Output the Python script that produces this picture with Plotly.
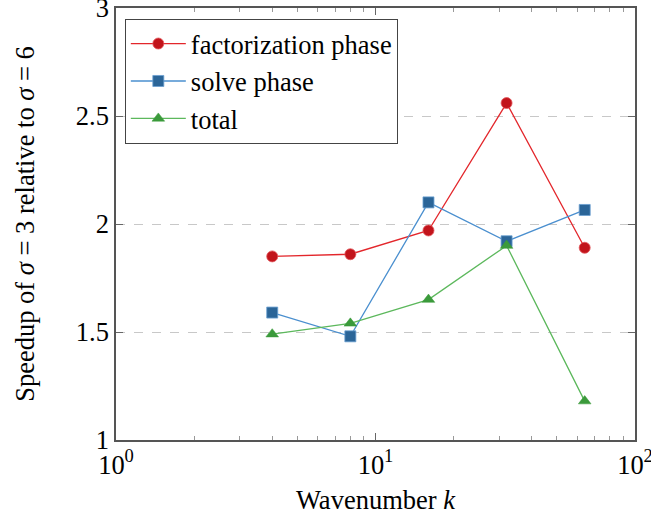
import plotly.graph_objects as go

k = [4, 8, 16, 32, 64]
factorization = [1.85, 1.86, 1.97, 2.56, 1.89]
solve = [1.59, 1.48, 2.10, 1.92, 2.065]
total = [1.49, 1.54, 1.65, 1.90, 1.18]

x_major = [1, 10, 100]
x_major_text = ["10<sup>0</sup>", "10<sup>1</sup>", "10<sup>2</sup>"]
x_minor = [2, 3, 4, 5, 6, 7, 8, 9, 20, 30, 40, 50, 60, 70, 80, 90]
y_ticks = [1, 1.5, 2, 2.5, 3]
y_text = ["1", "1.5", "2", "2.5", "3"]

FONT = "Liberation Serif, Times New Roman, serif"
FS = 26.5

fig = go.Figure()
fig.add_trace(go.Scatter(
    x=k, y=factorization, name="factorization phase", mode="lines+markers",
    line=dict(color="#e3262b", width=1.3),
    marker=dict(symbol="circle", size=11, color="#c2141b", line=dict(color="#e2555a", width=0.8))))
fig.add_trace(go.Scatter(
    x=k, y=solve, name="solve phase", mode="lines+markers",
    line=dict(color="#4a8fcf", width=1.3),
    marker=dict(symbol="square", size=11, color="#2b6598", line=dict(color="#6a9fd2", width=0.8))))
fig.add_trace(go.Scatter(
    x=k, y=total, name="total", mode="lines+markers",
    line=dict(color="#5cb85c", width=1.3),
    marker=dict(symbol="triangle-up", size=11, color="#3b9a3b", line=dict(color="#3b9a3b", width=0.5))))

fig.update_layout(
    width=651, height=515,
    margin=dict(l=116, r=16, t=8, b=75),
    paper_bgcolor="white", plot_bgcolor="white",
    font=dict(family=FONT, size=FS, color="black"),
    legend=dict(x=0.017, y=0.975, xanchor="left", yanchor="top",
                bordercolor="#444", borderwidth=1, bgcolor="white",
                font=dict(family=FONT, size=FS), tracegroupgap=0, itemwidth=55),
    showlegend=True,
)
fig.update_xaxes(
    type="log", range=[0, 2], automargin=False,
    tickmode="array", tickvals=x_major, ticktext=x_major_text,
    ticks="inside", ticklen=7, tickcolor="#666", tickwidth=1,
    minor=dict(tickmode="array", tickvals=x_minor, ticks="inside", ticklen=4,
               tickcolor="#999", showgrid=False),
    showline=True, linecolor="#555", linewidth=1.5, mirror="allticks",
    showgrid=False, zeroline=False,
    title=dict(text="Wavenumber <i>k</i>", font=dict(family=FONT, size=FS), standoff=12),
    tickfont=dict(family=FONT, size=FS), ticklabeloverflow="allow",
)
fig.update_yaxes(
    range=[1, 3], automargin=False,
    tickmode="array", tickvals=y_ticks, ticktext=y_text,
    ticks="inside", ticklen=7, tickcolor="#666", tickwidth=1,
    showline=True, linecolor="#555", linewidth=1.5, mirror="allticks",
    showgrid=True, gridcolor="#c8c8c8", griddash="dash", gridwidth=1,
    zeroline=False,
    title=dict(text="Speedup of <i>σ</i> = 3 relative to <i>σ</i> = 6",
               font=dict(family=FONT, size=FS), standoff=34),
    tickfont=dict(family=FONT, size=FS), ticklabeloverflow="allow",
)

fig.write_html("out.html")
